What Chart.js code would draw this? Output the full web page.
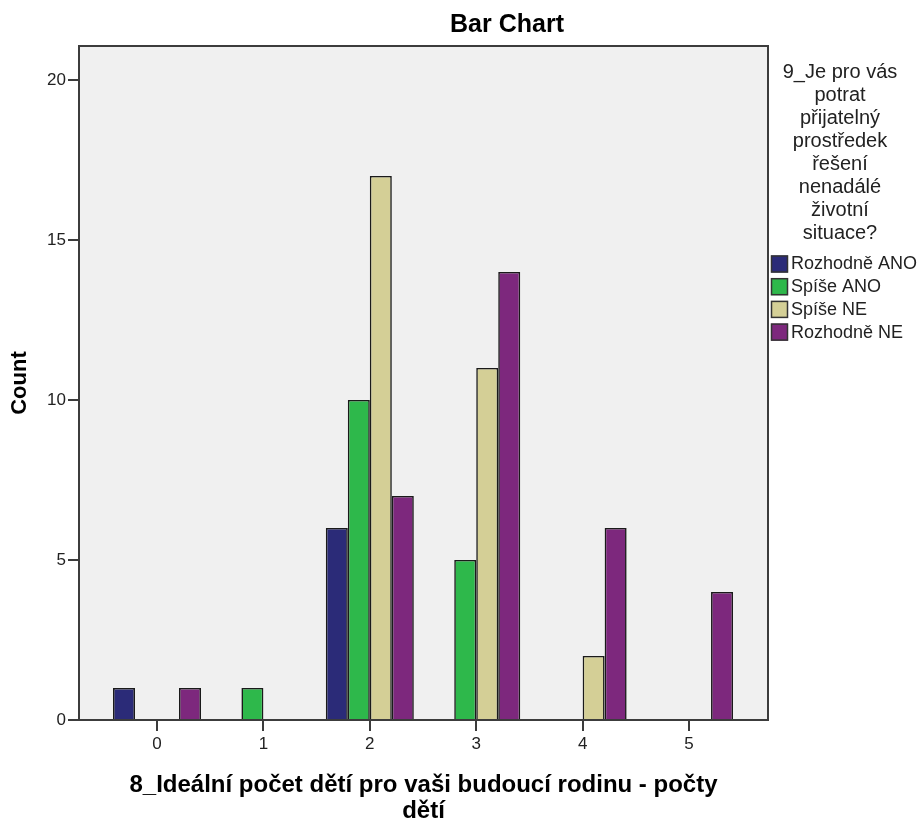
<!DOCTYPE html>
<html>
<head>
<meta charset="utf-8">
<script src="https://cdn.jsdelivr.net/npm/chart.js@4.4.0/dist/chart.umd.min.js"></script>
<style>
  html, body { margin: 0; padding: 0; background: #fff; }
</style>
</head>
<body>
<canvas id="barChart" width="918" height="818"></canvas>
<script>
// values
const categories = ['0', '1', '2', '3', '4', '5'];
const rozhodneAno = [1, 0, 6, 0, 0, 0];
const spiseAno = [0, 1, 10, 5, 0, 0];
const spiseNe = [0, 0, 17, 11, 2, 0];
const rozhodneNe = [1, 0, 7, 14, 6, 4];
const seriesNames = ['Rozhodně ANO', 'Spíše ANO', 'Spíše NE', 'Rozhodně NE'];
const seriesColors = ['#2b2b78', '#2eb84b', '#d4cf96', '#7d287d'];
const yTicks = [0, 5, 10, 15, 20];

const chartTitle = 'Bar Chart';
const yTitle = 'Count';
const xTitle = ['8_Ideální počet dětí pro vaši budoucí rodinu - počty', 'dětí'];
const legendTitle = ['9_Je pro vás', 'potrat', 'přijatelný', 'prostředek', 'řešení', 'nenadálé', 'životní', 'situace?'];

const FONT = '"Liberation Sans", Arial, sans-serif';
Chart.defaults.font.family = FONT;

// zero counts are not drawn, the slot stays reserved
function toPoints(values) {
  return values.map((v, i) => ({ x: i, y: v === 0 ? null : v }));
}

const allSeries = [rozhodneAno, spiseAno, spiseNe, rozhodneNe];

// grey plot background + dark frame
const plotFrame = {
  id: 'plotFrame',
  beforeDraw(chart) {
    const { ctx, chartArea: a } = chart;
    ctx.save();
    ctx.fillStyle = '#f0f0f0';
    ctx.fillRect(a.left, a.top, a.right - a.left, a.bottom - a.top);
    ctx.restore();
  },
  afterDraw(chart) {
    const { ctx, chartArea: a } = chart;
    ctx.save();
    ctx.strokeStyle = '#3c3c3c';
    ctx.lineWidth = 2;
    ctx.strokeRect(a.left, a.top, a.right - a.left, a.bottom - a.top);

    // chart title
    ctx.fillStyle = '#000';
    ctx.font = 'bold 25px ' + FONT;
    ctx.textAlign = 'center';
    ctx.textBaseline = 'middle';
    ctx.fillText(chartTitle, 507, 25);

    // legend title, wrapped like SPSS does it
    ctx.fillStyle = '#222';
    ctx.font = '20px ' + FONT;
    legendTitle.forEach((line, i) => {
      ctx.fillText(line, 840, 72 + i * 23);
    });

    // legend items
    ctx.textAlign = 'left';
    ctx.font = '18px ' + FONT;
    chart.data.datasets.forEach((ds, i) => {
      const y = 263.5 + i * 22.7;
      ctx.fillStyle = ds.backgroundColor;
      ctx.fillRect(771, y - 8, 17, 17);
      ctx.strokeStyle = '#333';
      ctx.lineWidth = 1.5;
      ctx.strokeRect(771.5, y - 7.5, 16, 16);
      ctx.fillStyle = '#222';
      ctx.fillText(ds.label, 791, y + 1);
    });
    ctx.restore();
  }
};

const barChart = new Chart(document.getElementById('barChart').getContext('2d'), {
  type: 'bar',
  data: {
    datasets: allSeries.map((values, i) => ({
      label: seriesNames[i],
      data: toPoints(values),
      backgroundColor: seriesColors[i],
      borderColor: '#1a1a1a',
      borderWidth: 1.6,
      categoryPercentage: 0.827,
      barPercentage: 1
    }))
  },
  options: {
    responsive: false,
    animation: false,
    devicePixelRatio: 1,
    layout: { padding: { top: 46, right: 150, left: 0, bottom: 0 } },
    plugins: {
      legend: { display: false },
      tooltip: { enabled: false },
      title: { display: false }
    },
    scales: {
      x: {
        type: 'linear',
        min: -0.733,
        max: 5.742,
        offset: false,
        grid: { offset: false, drawOnChartArea: false, drawTicks: true, tickLength: 11, color: '#3c3c3c', lineWidth: 2 },
        border: { display: false },
        ticks: {
          stepSize: 1,
          includeBounds: false,
          autoSkip: false,
          maxRotation: 0,
          padding: 3,
          color: '#222',
          font: { size: 17 },
          callback: (v) => categories[v] ?? ''
        },
        title: {
          display: true,
          text: xTitle,
          color: '#000',
          font: { size: 24, weight: 'bold', lineHeight: 1.08 },
          padding: { top: 0, bottom: -6 }
        },
        afterFit: (s) => { s.height = 98; }
      },
      y: {
        min: 0,
        max: 21.06,
        grid: { drawOnChartArea: false, drawTicks: true, tickLength: 11, color: '#3c3c3c', lineWidth: 2 },
        border: { display: false },
        ticks: {
          stepSize: 5,
          includeBounds: false,
          padding: 2,
          color: '#222',
          font: { size: 17 },
          callback: (v) => yTicks.includes(v) ? String(v) : ''
        },
        title: {
          display: true,
          text: yTitle,
          color: '#000',
          font: { size: 22, weight: 'bold' },
          padding: { top: 7, bottom: 0 }
        },
        afterFit: (s) => { s.width = 79; }
      }
    }
  },
  plugins: [plotFrame]
});
</script>
</body>
</html>
